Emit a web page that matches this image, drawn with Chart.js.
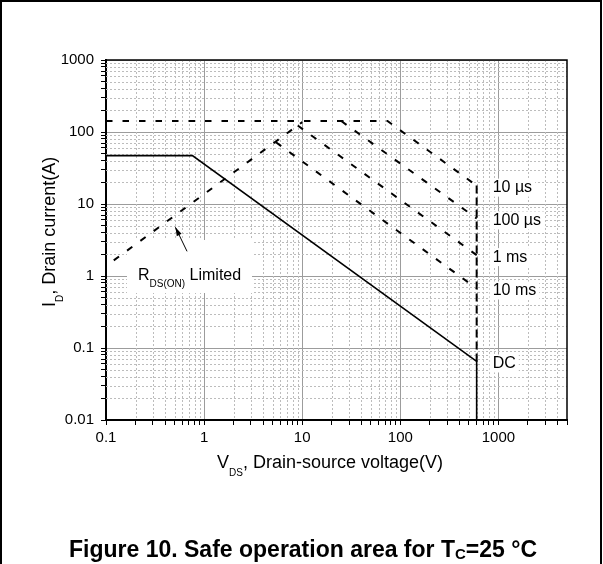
<!DOCTYPE html>
<html>
<head>
<meta charset="utf-8">
<title>Safe operation area</title>
<script src="https://cdn.jsdelivr.net/npm/chart.js@4.4.1/dist/chart.umd.min.js"></script>
<style>
  html, body { margin: 0; padding: 0; background: #fff; }
  canvas { display: block; }
</style>
</head>
<body>
<canvas id="soaChart" width="603" height="564"></canvas>
<script>
const xDecades = [0.1, 1, 10, 100, 1000];
const xTickLabels = ["0.1", "1", "10", "100", "1000"];
const xMin = 0.1;
const xMax = 5000;
const yDecades = [0.01, 0.1, 1, 10, 100, 1000];
const yTickLabels = ["0.01", "0.1", "1", "10", "100", "1000"];

// V_DS (V) and I_D (A)
const dcVoltage = [0.1, 0.76, 600, 600];
const dcCurrent = [47, 47, 0.065, 0.01];
const rdsVoltage = [0.12, 10];
const rdsCurrent = [1.65, 137];
const us10Voltage = [0.1, 74, 600];
const us10Current = [142, 142, 18];
const us100Voltage = [25, 600];
const us100Current = [142, 6.3];
const ms1Voltage = [9, 600];
const ms1Current = [123, 1.95];
const ms10Voltage = [5.4, 600];
const ms10Current = [72, 0.67];
const bvVoltage = [600, 600];
const bvCurrent = [18, 0.065];

const curveLabels = ["10 µs", "100 µs", "1 ms", "10 ms", "DC"];
const curveLabelCurrent = [
  us10Current[us10Current.length - 1],
  us100Current[us100Current.length - 1],
  ms1Current[ms1Current.length - 1],
  ms10Current[ms10Current.length - 1],
  dcCurrent[2],
];

const fontFamily = "'Liberation Sans', Arial, sans-serif";

function isDecade(v) {
  const l = Math.log10(v);
  return Math.abs(l - Math.round(l)) < 1e-6;
}

function logTicks(min, max) {
  const out = [];
  for (let e = Math.floor(Math.log10(min)); Math.pow(10, e) <= max; e++) {
    for (let k = 1; k <= 9; k++) {
      const v = Number((k * Math.pow(10, e)).toPrecision(6));
      if (v >= min * 0.999 && v <= max * 1.001) out.push({ value: v });
    }
  }
  return out;
}

function tickLabel(value, decades, labels) {
  const i = decades.findIndex((d) => Math.abs(d - value) / d < 1e-6);
  return i >= 0 ? labels[i] : "";
}

function curve(xs, ys) {
  return xs.map((x, i) => ({ x, y: ys[i] }));
}

// text made of runs, so subscripts can be drawn inline
function drawRuns(ctx, runs, x, y, align) {
  let total = 0;
  runs.forEach((r) => {
    ctx.font = `${r.weight || "normal"} ${r.size}px ${fontFamily}`;
    r.w = ctx.measureText(r.text).width;
    total += r.w;
  });
  let cx = align === "center" ? x - total / 2 : x;
  ctx.textAlign = "left";
  ctx.textBaseline = "alphabetic";
  runs.forEach((r) => {
    ctx.font = `${r.weight || "normal"} ${r.size}px ${fontFamily}`;
    ctx.fillText(r.text, cx, y + (r.dy || 0));
    cx += r.w;
  });
}

const soaDecor = {
  id: "soaDecor",
  beforeDatasetsDraw(chart) {
    const { ctx, chartArea: a, scales: { x, y } } = chart;
    ctx.save();
    // dotted minor grid
    ctx.strokeStyle = "#bcbcbc";
    ctx.lineWidth = 1;
    ctx.setLineDash([2, 2]);
    ctx.beginPath();
    x.ticks.forEach((t) => {
      if (isDecade(t.value) || t.value >= xMax) return;
      const px = Math.round(x.getPixelForValue(t.value)) + 0.5;
      ctx.moveTo(px, a.top);
      ctx.lineTo(px, a.bottom);
    });
    y.ticks.forEach((t) => {
      if (isDecade(t.value)) return;
      const py = Math.round(y.getPixelForValue(t.value)) + 0.5;
      ctx.moveTo(a.left, py);
      ctx.lineTo(a.right, py);
    });
    ctx.stroke();
    ctx.setLineDash([]);

    // white boxes behind the annotations
    ctx.fillStyle = "#fff";
    ctx.font = `16px ${fontFamily}`;
    const lx = x.getPixelForValue(600) + 16;
    curveLabels.forEach((text, i) => {
      const ly = y.getPixelForValue(curveLabelCurrent[i]) + 2;
      const w = ctx.measureText(text).width;
      ctx.fillRect(lx - 3, ly - 9, w + 6, 18);
    });
    ctx.fillRect(a.left + 21, a.top + 180, 125, 53);
    ctx.restore();
  },
  afterDatasetsDraw(chart) {
    const { ctx, chartArea: a, scales: { x, y } } = chart;
    ctx.save();
    ctx.fillStyle = "#000";
    ctx.strokeStyle = "#000";

    // plot frame top and right
    ctx.lineWidth = 1.5;
    ctx.beginPath();
    ctx.moveTo(a.left, a.top);
    ctx.lineTo(a.right, a.top);
    ctx.lineTo(a.right, a.bottom);
    ctx.stroke();

    // curve labels
    ctx.font = `16px ${fontFamily}`;
    ctx.textAlign = "left";
    ctx.textBaseline = "middle";
    const lx = x.getPixelForValue(600) + 16;
    curveLabels.forEach((text, i) => {
      ctx.fillText(text, lx, y.getPixelForValue(curveLabelCurrent[i]) + 2);
    });

    // R_DS(ON) limited note and arrow
    drawRuns(ctx, [
      { text: "R", size: 16 },
      { text: "DS(ON)", size: 10, dy: 7 },
      { text: " Limited", size: 16 },
    ], a.left + 32, a.top + 220);
    const tx = x.getPixelForValue(0.51), ty = y.getPixelForValue(4.75);
    const sx = x.getPixelForValue(0.67), sy = y.getPixelForValue(2.2);
    ctx.lineWidth = 1;
    ctx.beginPath();
    ctx.moveTo(sx, sy);
    ctx.lineTo(tx, ty);
    ctx.stroke();
    const ang = Math.atan2(ty - sy, tx - sx);
    ctx.beginPath();
    ctx.moveTo(tx, ty);
    ctx.lineTo(tx - 9 * Math.cos(ang - 0.3), ty - 9 * Math.sin(ang - 0.3));
    ctx.lineTo(tx - 9 * Math.cos(ang + 0.3), ty - 9 * Math.sin(ang + 0.3));
    ctx.closePath();
    ctx.fill();

    // axis titles
    drawRuns(ctx, [
      { text: "V", size: 18 },
      { text: "DS", size: 10, dy: 8 },
      { text: ", Drain-source voltage(V)", size: 18 },
    ], 217, 468);
    ctx.save();
    ctx.translate(55, 307);
    ctx.rotate(-Math.PI / 2);
    drawRuns(ctx, [
      { text: "I", size: 18 },
      { text: "D", size: 10, dy: 8 },
      { text: ", Drain current(A)", size: 18 },
    ], 0, 0);
    ctx.restore();

    // figure caption
    drawRuns(ctx, [
      { text: "Figure 10. Safe operation area for T", size: 23, weight: "bold" },
      { text: "C", size: 15, weight: "bold", dy: 2 },
      { text: "=25 °C", size: 23, weight: "bold" },
    ], 303, 557, "center");

    // outer frame
    ctx.lineWidth = 2;
    ctx.beginPath();
    ctx.moveTo(1, 564);
    ctx.lineTo(1, 1);
    ctx.lineTo(601, 1);
    ctx.lineTo(601, 564);
    ctx.stroke();
    ctx.restore();
  },
};

const dashed = {
  borderColor: "#000",
  borderWidth: 2,
  borderDash: [6.5, 10],
  pointRadius: 0,
  showLine: true,
  fill: false,
  tension: 0,
};

function majorGrid(ctx) {
  return ctx.tick && isDecade(ctx.tick.value) ? "#9c9c9c" : "rgba(0,0,0,0)";
}

Chart.defaults.font.family = fontFamily;

new Chart(document.getElementById("soaChart"), {
  type: "scatter",
  data: {
    datasets: [
      { ...dashed, data: curve(rdsVoltage, rdsCurrent) },
      { ...dashed, data: curve(us10Voltage, us10Current) },
      { ...dashed, data: curve(us100Voltage, us100Current) },
      { ...dashed, data: curve(ms1Voltage, ms1Current) },
      { ...dashed, data: curve(ms10Voltage, ms10Current) },
      { ...dashed, borderDash: [8, 4], data: curve(bvVoltage, bvCurrent) },
      {
        borderColor: "#000",
        borderWidth: 1.6,
        pointRadius: 0,
        showLine: true,
        fill: false,
        tension: 0,
        data: curve(dcVoltage, dcCurrent),
      },
    ],
  },
  options: {
    responsive: false,
    animation: false,
    layout: { padding: { left: 0, top: 60, right: 36, bottom: 0 } },
    scales: {
      x: {
        type: "logarithmic",
        min: xMin,
        max: xMax,
        afterBuildTicks(scale) {
          scale.ticks = logTicks(xMin, xMax);
        },
        afterFit(scale) {
          scale.height = 144;
        },
        ticks: {
          autoSkip: false,
          maxRotation: 0,
          padding: 4,
          color: "#000",
          font: { size: 15 },
          callback: (v) => tickLabel(v, xDecades, xTickLabels),
        },
        grid: { color: majorGrid, lineWidth: 1, tickColor: "#000", tickLength: 5, tickWidth: 1 },
        border: { color: "#000", width: 2 },
      },
      y: {
        type: "logarithmic",
        min: yDecades[0],
        max: yDecades[yDecades.length - 1],
        afterBuildTicks(scale) {
          scale.ticks = logTicks(yDecades[0], yDecades[yDecades.length - 1]);
        },
        afterFit(scale) {
          scale.width = 106;
        },
        ticks: {
          autoSkip: false,
          padding: 7,
          color: "#000",
          font: { size: 15 },
          callback: (v) => tickLabel(v, yDecades, yTickLabels),
        },
        grid: { color: majorGrid, lineWidth: 1, tickColor: "#000", tickLength: 5, tickWidth: 1 },
        border: { color: "#000", width: 2 },
      },
    },
    plugins: {
      legend: { display: false },
      tooltip: { enabled: false },
    },
  },
  plugins: [soaDecor],
});
</script>
</body>
</html>
